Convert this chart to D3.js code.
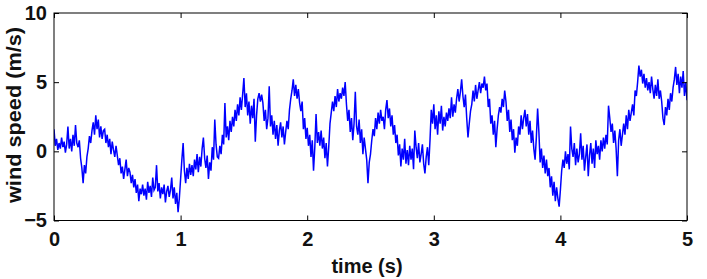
<!DOCTYPE html>
<html>
<head>
<meta charset="utf-8">
<script src="https://cdn.jsdelivr.net/npm/d3@7"></script>
<style>
  body { margin: 0; background: #fff; }
  svg text { font-family: "Liberation Sans", Arial, sans-serif; font-weight: bold; fill: #111; }
</style>
</head>
<body>
<svg width="707" height="279"></svg>
<script>
// wind speed samples, 0.01 s apart (one row = 0.1 s)
var windSpeed = [
  1.6, 0.4, 0.9, 0.1, 0.6, 0.2, 1.0, 0.3, 0.7, -0.1,
  0.5, 1.8, 0.2, 0.9, 0.0, 1.2, 0.4, 1.9, 0.6, 0.3,
  0.8, -0.5, -1.2, -2.3, -1.0, -1.6, -0.4, 0.2, 1.1, 0.6,
  1.5, 2.1, 1.2, 2.6, 1.6, 2.3, 1.0, 1.8, 0.9, 1.5,
  1.6, 0.6, 1.2, 0.3, 0.9, -0.2, 0.7, 0.1, -0.4, 0.4,
  -0.3, -1.0, -0.5, -1.6, -1.1, -2.0, -1.3, -0.6, -1.8, -1.2,
  -1.5, -2.3, -1.7, -2.6, -2.0, -3.0, -2.4, -3.6, -2.7, -3.1,
  -2.4, -3.2, -2.7, -3.5, -2.2, -3.0, -2.5, -3.3, -1.9, -2.8,
  -2.6, -1.0, -2.9, -2.3, -3.4, -2.6, -3.1, -2.4, -3.7, -2.9,
  -2.5, -3.3, -2.8, -1.9, -3.4, -2.6, -3.8, -3.0, -4.4, -3.4,
  -2.0, -0.6, 0.6, -1.4, -2.3, -1.2, -2.0, -0.9, -1.7, -1.0,
  -1.8, -0.6, -1.3, -0.2, -1.5, -0.4, -1.1, 0.2, 1.0, -0.5,
  -1.2, -0.3, -2.0, -0.8, -1.4, 0.3, -0.6, 2.3, 0.5, -0.4,
  -0.5, 0.4, -0.2, 1.2, 0.5, 3.5, 1.0, 1.8, 0.8, 2.2,
  1.4, 2.5, 1.8, 3.0, 2.2, 3.4, 2.6, 3.9, 3.0, 4.1,
  5.3, 3.2, 4.2, 2.6, 3.6, 2.0, 3.3, 2.4, 3.8, 0.7,
  2.6, 3.8, 4.2, 3.6, 4.1, 3.5, 2.2, 3.0, 1.6, 2.4,
  4.7, 1.8, 2.6, 1.2, 2.2, 0.9, 1.9, 0.4, 1.5, 2.1,
  1.0, 1.8, 0.5, 1.4, 2.2, 1.6, 3.0, 3.8, 4.4, 5.2,
  4.0, 4.8, 3.8, 4.5, 3.5, 2.9, 3.6, 1.6, 2.4, 0.9,
  1.7, 0.4, 1.2, -0.4, 0.8, -1.4, 0.3, 2.7, 0.6, 1.4,
  0.4, 1.5, 0.2, 1.0, -0.5, 0.6, -1.1, 0.3, 2.0, 2.8,
  3.6, 2.9, 4.0, 3.2, 4.5, 3.6, 4.2, 3.8, 4.6, 4.0,
  5.0, 3.4, 2.2, 3.0, 1.4, 2.4, 0.8, 2.0, 4.3, 1.8,
  1.2, 2.3, 0.6, 1.6, -0.2, 1.0, 0.2, -0.6, -2.3, -0.8,
  -0.2, 0.8, 1.6, 1.1, 2.4, 1.6, 2.8, 2.0, 3.0, 2.2,
  2.5, 1.6, 3.0, 3.7, 2.4, 3.1, 1.8, 2.6, 1.2, 1.9,
  0.6, 1.2, -0.3, 0.5, -1.1, 0.2, -0.6, 0.9, -0.9, 0.1,
  -1.0, 0.4, -0.6, 0.2, -1.3, 1.5, 0.3, -0.5, 0.6, -0.8,
  -0.2, 0.5, -0.9, -1.6, -0.4, 0.3, -1.0, 0.8, 3.0, 2.0,
  3.4, 1.6, 2.6, 1.2, 2.9, 2.0, 3.3, 1.5, 2.5, 1.8,
  2.8, 2.2, 3.1, 2.4, 3.9, 2.5, 3.4, 2.8, 3.8, 4.5,
  3.6, 4.3, 5.2, 4.0, 3.2, 4.1, 2.4, 1.0, 2.0, 2.9,
  3.4, 4.4, 3.6, 4.8, 3.8, 4.4, 5.0, 4.2, 4.9, 4.6,
  5.4, 4.4, 4.9, 3.2, 3.8, 2.0, 2.6, 1.2, 2.2, 0.3,
  1.6, 2.6, 3.2, 2.8, 3.8, 3.2, 4.4, 3.6, 2.2, 3.0,
  1.4, 2.3, 0.8, 1.6, -0.1, 1.0, 0.4, 1.8, 1.2, 2.6,
  1.6, 2.4, 3.0, 1.8, 2.7, 1.2, 2.2, 0.6, 1.5, 0.2,
  -0.6, 1.0, 3.1, 1.4, -0.8, 0.2, -1.2, -0.3, -1.6, -0.6,
  -1.8, -1.2, -2.6, -1.8, -3.2, -2.2, -3.6, -2.6, -3.4, -4.0,
  -2.8, -1.4, -0.6, -1.2, 0.0, -0.9, -0.2, -1.3, 1.8, 0.2,
  -0.4, 0.6, -1.0, 0.2, -0.8, -0.2, 1.3, -0.6, 0.4, -1.4,
  -0.4, 0.5, -1.8, -0.3, 0.6, -0.9, 0.2, -1.2, 0.8, -0.2,
  0.4, -0.6, 0.8, 0.0, 1.0, 0.2, 1.2, 0.5, 3.3, 2.4,
  1.4, 2.0, 0.6, 1.5, 0.2, -1.8, 0.8, 1.6, 0.4, 1.2,
  2.0, 1.2, 2.6, 1.6, 3.0, 2.2, 2.8, 3.4, 2.6, 4.4,
  4.0, 5.0, 6.2, 5.4, 5.9, 4.9, 5.6, 4.6, 5.3, 4.4,
  5.0, 4.2, 5.4, 4.5, 3.8, 4.8, 4.0, 5.2, 3.8, 4.4,
  3.6, 2.4, 1.9, 3.2, 2.6, 3.8, 3.0, 4.2, 3.6, 4.6,
  5.2, 6.1, 4.8, 5.6, 4.2, 5.4, 4.6, 5.8, 4.0, 5.0,
  3.7
];
var timeStep = 0.01;

var xTicks = [0, 1, 2, 3, 4, 5];
var yTicks = [-5, 0, 5, 10];
var xLabel = "time (s)";
var yLabel = "wind speed (m/s)";

var svg = d3.select("svg");

var plotLeft = 54, plotRight = 687, plotTop = 13, plotBottom = 220.5;

var xScale = d3.scaleLinear().domain([0, 5]).range([plotLeft, plotRight]);
var yScale = d3.scaleLinear().domain([-5, 10]).range([plotBottom, plotTop]);

var data = windSpeed.map(function(v, i) { return { t: i * timeStep, v: v }; });

// **** signal ****
svg.append("clipPath").attr("id", "plotclip")
  .append("rect")
  .attr("x", plotLeft).attr("y", plotTop)
  .attr("width", plotRight - plotLeft).attr("height", plotBottom - plotTop);

var line = d3.line()
  .x(function(d) { return xScale(d.t); })
  .y(function(d) { return yScale(d.v); });

svg.append("path")
  .datum(data)
  .attr("clip-path", "url(#plotclip)")
  .attr("fill", "none")
  .attr("stroke", "#0000ff")
  .attr("stroke-width", 1.5)
  .attr("d", line);

// **** axes, ticks inward, mirrored on top and right ****
var tickLen = 5;
var fmt = d3.format("d");

function styleAxis(g) {
  g.select(".domain").remove();
  g.selectAll(".tick line").attr("stroke", "#000").attr("stroke-width", 1);
  g.selectAll(".tick text").style("font-size", "20px").attr("font-family", null);
}

svg.append("g")
  .attr("transform", "translate(0," + plotBottom + ")")
  .call(d3.axisBottom(xScale).tickValues(xTicks).tickFormat(fmt).tickSizeInner(-tickLen).tickSizeOuter(0).tickPadding(11))
  .call(styleAxis);

svg.append("g")
  .attr("transform", "translate(0," + plotTop + ")")
  .call(d3.axisTop(xScale).tickValues(xTicks).tickSizeInner(-tickLen).tickSizeOuter(0).tickFormat(""))
  .call(styleAxis);

svg.append("g")
  .attr("transform", "translate(" + plotLeft + ",0)")
  .call(d3.axisLeft(yScale).tickValues(yTicks).tickFormat(fmt).tickSizeInner(-tickLen).tickSizeOuter(0).tickPadding(7))
  .call(styleAxis);

svg.append("g")
  .attr("transform", "translate(" + plotRight + ",0)")
  .call(d3.axisRight(yScale).tickValues(yTicks).tickSizeInner(-tickLen).tickSizeOuter(0).tickFormat(""))
  .call(styleAxis);

// frame
svg.append("rect")
  .attr("x", plotLeft).attr("y", plotTop)
  .attr("width", plotRight - plotLeft).attr("height", plotBottom - plotTop)
  .attr("fill", "none")
  .attr("stroke", "#000")
  .attr("stroke-width", 1);

// labels
svg.append("text")
  .attr("x", 367)
  .attr("y", 273)
  .attr("text-anchor", "middle")
  .style("font-size", "20px")
  .text(xLabel);

svg.append("text")
  .attr("transform", "translate(21,115) rotate(-90)")
  .attr("text-anchor", "middle")
  .attr("textLength", 176)
  .attr("lengthAdjust", "spacingAndGlyphs")
  .style("font-size", "20px")
  .text(yLabel);
</script>
</body>
</html>
